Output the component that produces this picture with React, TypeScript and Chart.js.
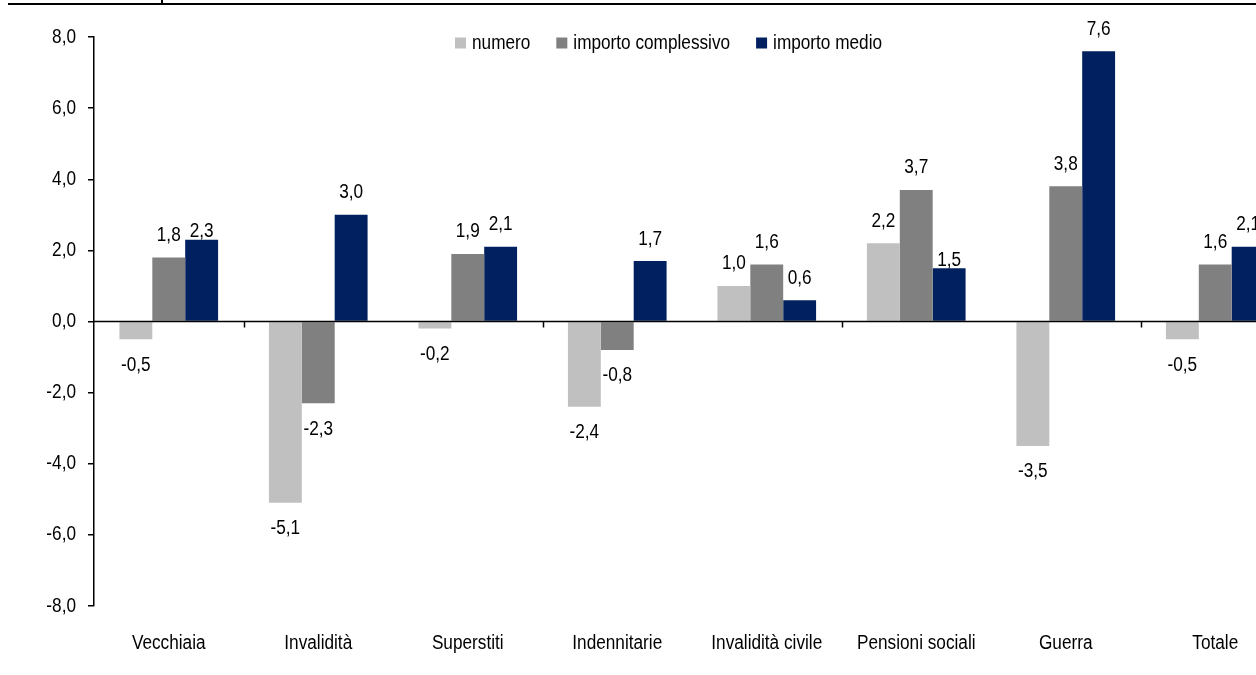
import React, { useEffect, useRef } from "react";
import { Chart, registerables } from "chart.js";

Chart.register(...registerables);

// ---- data ----
const categories = [
  "Vecchiaia",
  "Invalidità",
  "Superstiti",
  "Indennitarie",
  "Invalidità civile",
  "Pensioni sociali",
  "Guerra",
  "Totale",
];
const seriesNames = ["numero", "importo complessivo", "importo medio"];
const numero = [-0.5, -5.1, -0.2, -2.4, 1.0, 2.2, -3.5, -0.5];
const importoComplessivo = [1.8, -2.3, 1.9, -0.8, 1.6, 3.7, 3.8, 1.6];
const importoMedio = [2.3, 3.0, 2.1, 1.7, 0.6, 1.5, 7.6, 2.1];
const yMin = -8;
const yMax = 8;
const yStep = 2;

// ---- style ----
const FONT = '"Liberation Sans", Arial, sans-serif';
const FONT_SIZE = 20;
const NARROW = 0.86; // horizontal condensing to mimic Arial Narrow
const COLORS = ["#C0C0C0", "#808080", "#002060"];
const LABEL_GAP_ABOVE = 22;
const LABEL_GAP_BELOW = 26;
const labelGapOverride: Record<string, number> = { "2-0": 8, "2-5": 8 };

const fmt = (v: number) => v.toFixed(1).replace(".", ",");

function narrowText(ctx: CanvasRenderingContext2D, text: string, x: number, y: number, align: CanvasTextAlign) {
  ctx.save();
  ctx.font = `${FONT_SIZE}px ${FONT}`;
  ctx.fillStyle = "#000";
  ctx.textAlign = align;
  ctx.textBaseline = "middle";
  ctx.translate(x, y);
  ctx.scale(NARROW, 1);
  ctx.fillText(text, 0, 0);
  ctx.restore();
}

function narrowWidth(ctx: CanvasRenderingContext2D, text: string) {
  ctx.save();
  ctx.font = `${FONT_SIZE}px ${FONT}`;
  const w = ctx.measureText(text).width * NARROW;
  ctx.restore();
  return w;
}

const axisPlugin = {
  id: "zeroAxis",
  afterDatasetsDraw(chart: any) {
    const { ctx, chartArea, scales } = chart;
    const y0 = scales.y.getPixelForValue(0);
    ctx.save();
    ctx.strokeStyle = "#000";
    ctx.lineWidth = 1.5;
    ctx.beginPath();
    ctx.moveTo(chartArea.left, y0);
    ctx.lineTo(chartArea.right, y0);
    ctx.stroke();
    const xs = scales.x;
    const half = (xs.getPixelForValue(1) - xs.getPixelForValue(0)) / 2;
    for (let i = 1; i < categories.length; i += 2) {
      const x = Math.round(xs.getPixelForValue(i) - half) + 0.5;
      ctx.beginPath();
      ctx.moveTo(x, y0);
      ctx.lineTo(x, y0 + 6);
      ctx.stroke();
    }
    ctx.restore();
  },
};

const tickTextPlugin = {
  id: "tickText",
  afterDraw(chart: any) {
    const { ctx, scales, chartArea } = chart;
    scales.y.ticks.forEach((t: any) => {
      narrowText(ctx, fmt(Number(t.value)), chartArea.left - 18, scales.y.getPixelForValue(t.value), "right");
    });
    categories.forEach((c, i) => {
      narrowText(ctx, c, scales.x.getPixelForValue(i), chartArea.bottom + 37, "center");
    });
  },
};

const labelPlugin = {
  id: "barLabels",
  afterDatasetsDraw(chart: any) {
    const ctx = chart.ctx;
    chart.data.datasets.forEach((ds: any, di: number) => {
      const meta = chart.getDatasetMeta(di);
      meta.data.forEach((el: any, i: number) => {
        const v = ds.data[i] as number;
        const key = `${di}-${i}`;
        const gap = labelGapOverride[key] ?? (v >= 0 ? LABEL_GAP_ABOVE : LABEL_GAP_BELOW);
        const y = v >= 0 ? el.y - gap : el.y + gap;
        narrowText(ctx, fmt(v), el.x, y, "center");
      });
    });
  },
};

const legendPlugin = {
  id: "insideLegend",
  afterDraw(chart: any) {
    const ctx = chart.ctx;
    let x = 455;
    const cy = 43;
    const box = 11;
    chart.data.datasets.forEach((ds: any) => {
      ctx.save();
      ctx.fillStyle = ds.backgroundColor;
      ctx.fillRect(x, cy - box / 2, box, box);
      ctx.restore();
      x += box + 6;
      narrowText(ctx, ds.label, x, cy, "left");
      x += narrowWidth(ctx, ds.label) + 26;
    });
  },
};

export default function App() {
  const ref = useRef<HTMLCanvasElement | null>(null);

  useEffect(() => {
    if (!ref.current) return;
    const series = [numero, importoComplessivo, importoMedio];
    const chart = new Chart(ref.current, {
      type: "bar",
      data: {
        labels: categories,
        datasets: series.map((d, i) => ({
          label: seriesNames[i],
          data: d,
          backgroundColor: COLORS[i],
          borderWidth: 0,
          categoryPercentage: 0.66,
          barPercentage: 1.0,
        })),
      },
      options: {
        responsive: false,
        animation: false,
        devicePixelRatio: 1,
        layout: { padding: { top: 37, right: 10, left: 0, bottom: 0 } },
        plugins: {
          legend: { display: false },
          tooltip: { enabled: false },
        },
        scales: {
          x: {
            grid: { display: false, drawTicks: false },
            border: { display: false },
            ticks: { display: false, autoSkip: false },
            afterFit(scale: any) {
              scale.height = 69;
            },
          },
          y: {
            min: yMin,
            max: yMax,
            grid: {
              drawOnChartArea: false,
              drawTicks: true,
              tickLength: 6,
              color: "#000",
              lineWidth: 1.5,
            },
            border: { display: true, color: "#000", width: 1.5 },
            ticks: { stepSize: yStep, display: false },
            afterFit(scale: any) {
              scale.width = 94;
            },
          },
        },
      },
      plugins: [axisPlugin, labelPlugin, tickTextPlugin, legendPlugin],
    });
    return () => chart.destroy();
  }, []);

  return (
    <div
      style={{
        position: "absolute",
        left: 0,
        top: 0,
        width: 1256,
        height: 675,
        overflow: "hidden",
        background: "#fff",
      }}
    >
      <canvas
        ref={ref}
        width={1300}
        height={675}
        style={{ position: "absolute", left: 0, top: 0, width: 1300, height: 675 }}
      />
      <div style={{ position: "absolute", left: 8, top: 3, width: 1248, height: 2, background: "#000" }} />
      <div style={{ position: "absolute", left: 161, top: 0, width: 2, height: 4, background: "#000" }} />
    </div>
  );
}
